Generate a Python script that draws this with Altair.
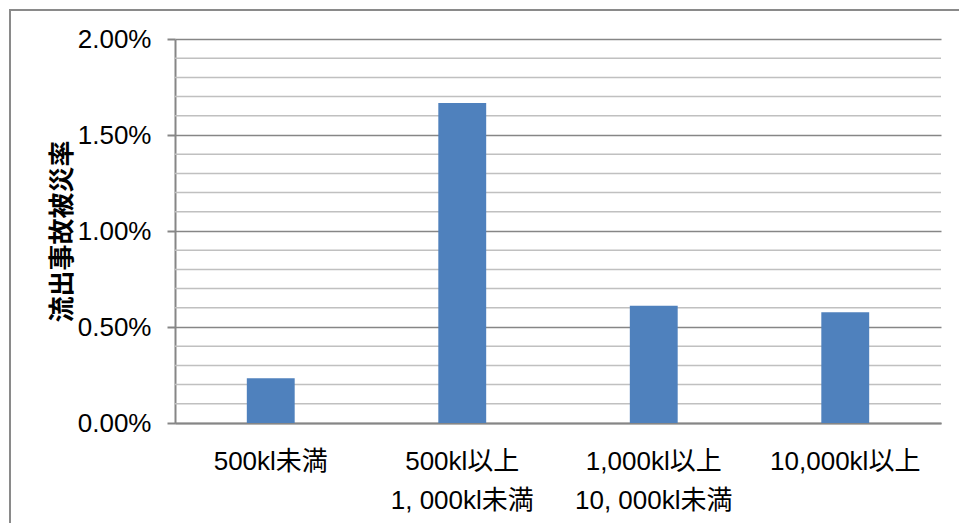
import altair as alt
import pandas as pd

# Data
categories = ["500kl未満", "500kl以上\n1, 000kl未満", "1,000kl以上\n10, 000kl未満", "10,000kl以上"]
rates = [0.00233, 0.01667, 0.00611, 0.00577]
major_ticks = [0.0, 0.005, 0.010, 0.015, 0.020]
minor_grid = [0.001, 0.002, 0.003, 0.004, 0.006, 0.007, 0.008, 0.009,
              0.011, 0.012, 0.013, 0.014, 0.016, 0.017, 0.018, 0.019]
y_title = "流出事故被災率"

df = pd.DataFrame({"cat": categories, "rate": rates})
grid_df = pd.DataFrame({"v": minor_grid})

LATIN = "Liberation Sans, Arial, Noto Sans CJK JP"
CJK = "Noto Sans CJK JP"

y_scale = alt.Scale(domain=[0, 0.02], nice=False, zero=True)
y_axis = alt.Axis(
    title=y_title, values=major_ticks, format=".2%",
    labelFont="Liberation Sans", labelFontSize=26, labelColor="#000000",
    labelPadding=16, tickSize=8, tickColor="#868686", tickWidth=2,
    domainColor="#868686", domainWidth=2,
    grid=True, gridColor="#868686", gridWidth=1.5,
    titleFont=CJK, titleFontSize=26, titleFontWeight="bold",
    titleColor="#000000", titleAngle=-90,
    titleX=-113, titleY=192, titleAlign="center", titleBaseline="middle",
)

frame = alt.Chart(pd.DataFrame({"a": [0]})).mark_rect(
    fill="white", fillOpacity=0, stroke="#8a8a8a", strokeWidth=2
).encode(
    x=alt.value(-165), x2=alt.value(900),
    y=alt.value(-29), y2=alt.value(600)
)

minor = alt.Chart(grid_df).mark_rule(color="#c0c0c0", strokeWidth=1.5).encode(
    y=alt.Y("v:Q", scale=y_scale, axis=y_axis, title=y_title)
)

bars = alt.Chart(df).mark_bar(
    color="#4f81bd", width=alt.RelativeBandSize(0.25)
).encode(
    x=alt.X(
        "cat:N", sort=categories,
        scale=alt.Scale(paddingInner=0, paddingOuter=0),
        axis=alt.Axis(
            title=None, labelAngle=0, ticks=False,
            labelExpr="split(datum.label, '\\n')",
            labelFont=LATIN, labelFontSize=26, labelColor="#000000",
            labelLineHeight=39, labelPadding=25,
            domainColor="#868686", domainWidth=2, grid=False,
            labelBaseline="top",
        ),
    ),
    y=alt.Y("rate:Q", scale=y_scale, axis=y_axis, title=y_title),
)

chart = alt.layer(frame, minor, bars).properties(
    width=766, height=384,
    autosize=alt.AutoSizeParams(type="none"),
    padding={"left": 175, "top": 39, "right": 18, "bottom": 100},
    background="white",
).configure_view(stroke=None)

chart.save("out.html", embed_options={"renderer": "svg", "actions": False})
